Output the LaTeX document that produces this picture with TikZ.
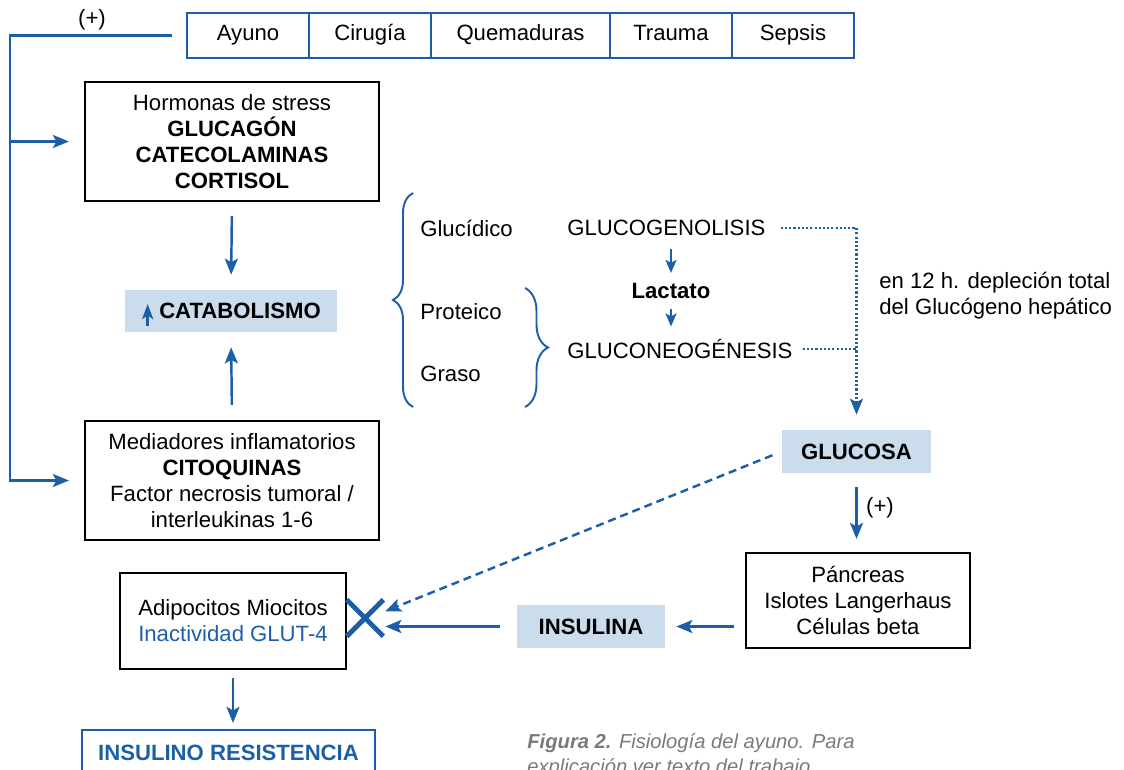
\documentclass[tikz,border=0pt]{standalone}
\usepackage{fontspec}
\setmainfont{Liberation Sans}
\usetikzlibrary{arrows.meta,decorations.pathreplacing}
\definecolor{lineblue}{HTML}{1C5FA8}
\definecolor{fillblue}{HTML}{CBDCEC}
\definecolor{capgray}{HTML}{7A7A7A}

\begin{document}
\begin{tikzpicture}[x=0.02cm,y=-0.02cm,font=\fontsize{12.6}{14.8}\selectfont]
\tikzstyle{box}=[draw=black,line width=1.3pt,align=center,inner sep=2pt]
\tikzstyle{cell}=[draw=lineblue,line width=1.3pt,minimum height=0.9cm,inner sep=0pt,text height=1.6ex,text depth=0.45ex]
\tikzstyle{hl}=[fill=fillblue,font=\fontsize{12.6}{14.8}\selectfont\bfseries,inner sep=0pt]
\tikzstyle{lbl}=[inner sep=0pt]
\tikzstyle{arr}=[->,>={Stealth[length=0.32cm,width=0.26cm,inset=0.07cm]},lineblue,line width=1.4pt]
\tikzstyle{sarr}=[->,>={Stealth[length=0.26cm,width=0.22cm,inset=0.06cm]},lineblue,line width=1.4pt]
\tikzstyle{dots}=[lineblue,line width=1.3pt,dash pattern=on 1.2pt off 1.2pt]
\tikzstyle{brc}=[lineblue,line width=1.1pt,decorate]

\clip (0,0) rectangle (1124,769);

% Causes row
\foreach \i/\x/\w/\lbl in {1/248/122/Ayuno,2/370/122/Cirugía,3/520.5/179/Quemaduras,4/671/122/Trauma,5/793/122/Sepsis} {
  \node[cell,minimum width=\w*0.02cm] (c\i) at (\x,35.5) {\lbl};
}
\node[lbl] (plus1) at (92,20) {(+)};
\coordinate (lft) at (10,0);

% Hormones, catabolism, mediators
\node[box,minimum width=5.88cm,minimum height=2.38cm] (horm) at (232,141.5) {Hormonas de stress\\\textbf{GLUCAGÓN}\\\textbf{CATECOLAMINAS}\\\textbf{CORTISOL}};
\node[hl,minimum width=4.24cm,minimum height=0.84cm] (cat) at (231,311) {\hspace*{0.36cm}CATABOLISMO};
\draw[->,>={Stealth[length=0.3cm,width=0.22cm,inset=0.07cm]},lineblue,line width=1.6pt] ([xshift=0.46cm,yshift=-0.3cm]cat.west) -- ++(0,0.44cm);
\node[box,minimum width=5.88cm,minimum height=2.38cm] (med) at (232,480.5) {Mediadores inflamatorios\\\textbf{CITOQUINAS}\\Factor necrosis tumoral /\\interleukinas 1-6};

\draw[arr,shorten <=0.28cm,shorten >=0.3cm] (c1.west) -- (c1.west -| lft) |- (med.west);
\draw[arr,shorten >=0.3cm] (lft |- horm.west) -- (horm.west);
\draw[arr,shorten <=0.28cm,shorten >=0.3cm] (horm.south) -- (cat.north);
\draw[arr,shorten <=0.3cm,shorten >=0.3cm] (med.north) -- (cat.south);

% Metabolism branches
\draw[brc,decoration={brace,amplitude=0.4cm}] (413,407) -- (413,193);
\draw[brc,decoration={brace,amplitude=0.46cm}] (525,288) -- (525,407);
\node[lbl,anchor=west] (gluc) at (420,228) {Glucídico};
\node[lbl,anchor=west] (prot) at (420,312) {Proteico};
\node[lbl,anchor=west] (gras) at (420,374) {Graso};
\node[lbl,anchor=west] (glg) at (567,228) {GLUCOGENOLISIS};
\node[lbl,font=\fontsize{12.6}{14.8}\selectfont\bfseries] (lac) at (671,291) {Lactato};
\node[lbl,anchor=west] (gng) at (567,349) {GLUCONEOGÉNESIS};
\draw[sarr,shorten <=0.25cm,shorten >=0.2cm] (glg.south -| lac) -- (lac.north);
\draw[sarr,shorten <=0.2cm,shorten >=0.25cm] (lac.south) -- (gng.north -| lac);

% Glucose
\node[hl,minimum width=2.98cm,minimum height=0.86cm] (glu) at (856.5,451.5) {GLUCOSA};
\draw[dots,-{Stealth[length=0.32cm,width=0.26cm,inset=0.07cm]},shorten <=0.3cm,shorten >=0.3cm] (glg.east) -| (glu.north);
\draw[dots,shorten <=0.2cm] (gng.east) -- (gng.east -| glu.north);
\node[lbl,anchor=west,align=left] (depl) at (879,296) {en 12 h. depleción total\\del Glucógeno hepático};

% Pancreas and insulin
\node[box,minimum width=4.48cm,minimum height=1.9cm] (panc) at (858,600.5) {Páncreas\\Islotes Langerhaus\\Células beta};
\draw[arr,shorten <=0.28cm,shorten >=0.26cm] (glu.south) -- (glu.south |- panc.north);
\node[lbl] (plus2) at (880,508) {(+)};
\node[hl,minimum width=2.96cm,minimum height=0.86cm] (ins) at (591,626.5) {INSULINA};
\draw[arr,shorten <=0.22cm,shorten >=0.22cm] (panc.west |- ins) -- (ins.east);

% Blocked uptake
\node[box,minimum width=4.52cm,minimum height=1.92cm] (adip) at (233,621) {Adipocitos Miocitos\\\textcolor{lineblue}{Inactividad GLUT-4}};
\node[minimum size=0.72cm,inner sep=0pt] (xm) at (365,618) {};
\draw[lineblue,line width=2.8pt] (xm.north west) -- (xm.south east) (xm.south west) -- (xm.north east);
\draw[arr,shorten <=0.34cm,shorten >=0.04cm] (ins.west) -- (ins.west -| xm.east);
\draw[arr,dash pattern=on 0.16cm off 0.1cm,shorten <=0.2cm,shorten >=0.04cm] (glu.west) -- ([yshift=0.12cm]xm.east);

\node[draw=lineblue,line width=1.3pt,minimum width=5.86cm,minimum height=0.92cm,text=lineblue,font=\fontsize{12.6}{14.8}\selectfont\bfseries] (ires) at (228.5,753) {INSULINO RESISTENCIA};
\draw[arr,shorten <=0.16cm,shorten >=0.12cm] (adip.south) -- (adip.south |- ires.north);

% Caption
\node[lbl,anchor=north west,align=left,text=capgray,font=\fontsize{11.5}{14.5}\selectfont\itshape] (capt) at (527,733) {\textbf{Figura 2.} Fisiología del ayuno. Para\\explicación ver texto del trabajo.};
\end{tikzpicture}
\end{document}
